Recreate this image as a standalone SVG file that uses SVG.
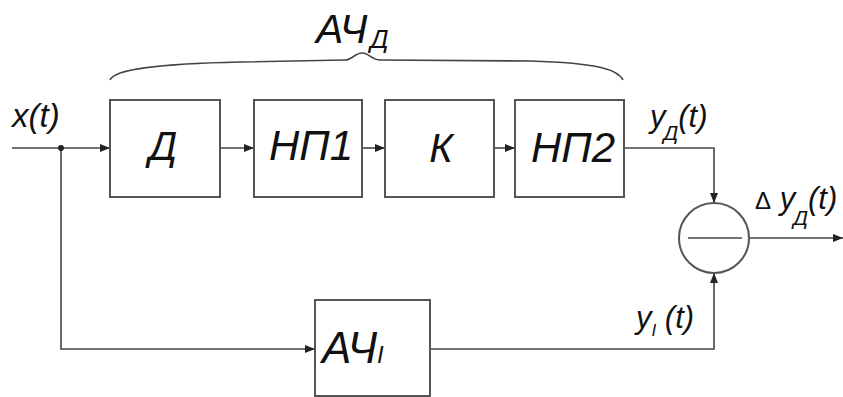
<svg xmlns="http://www.w3.org/2000/svg" width="843" height="397" viewBox="0 0 843 397">
<style>
.box{fill:#fff;stroke:#555;stroke-width:2}
.ln{fill:none;stroke:#444;stroke-width:1.6}
.t{font-family:"Liberation Sans",Arial,sans-serif;font-style:italic;fill:#111}
</style>
<defs>
<marker id="ar" viewBox="0 0 10 8" refX="10" refY="4" markerWidth="10" markerHeight="8" markerUnits="userSpaceOnUse" orient="auto">
<path d="M0,0 L10,4 L0,8 Z" fill="#222"/>
</marker>
</defs>
<rect width="843" height="397" fill="#fff"/>
<g id="connectors">
<path class="ln" d="M12,148 H110" marker-end="url(#ar)"/>
<path class="ln" d="M220,148 H254" marker-end="url(#ar)"/>
<path class="ln" d="M362,148 H385" marker-end="url(#ar)"/>
<path class="ln" d="M494,148 H515" marker-end="url(#ar)"/>
<path class="ln" d="M624,148 H714 V203" marker-end="url(#ar)"/>
<path class="ln" d="M61,148 V349 H315" marker-end="url(#ar)"/>
<path class="ln" d="M430,349 H714 V273" marker-end="url(#ar)"/>
<path class="ln" d="M749,238 H843" marker-end="url(#ar)"/>
<circle cx="61" cy="148" r="3" fill="#222"/>
</g>
<g id="brace">
<path class="ln" d="M110,80 C114,70 150,64 240,62 L345,60 C352,60 355,53 362,53 C369,53 372,60 380,60 L530,61 C600,63 618,70 623,80"/>
<text class="t" x="316" y="43" font-size="41">АЧ<tspan font-size="26" dx="3" dy="5">Д</tspan></text>
</g>
<g id="node-D">
<rect class="box" x="110" y="100" width="110" height="97"/>
<text class="t" x="163" y="160" font-size="40" text-anchor="middle">Д</text>
</g>
<g id="node-NP1">
<rect class="box" x="254" y="100" width="108" height="97"/>
<text class="t" x="311" y="160" font-size="42" text-anchor="middle">НП1</text>
</g>
<g id="node-K">
<rect class="box" x="385" y="100" width="109" height="97"/>
<text class="t" x="441" y="162" font-size="40" text-anchor="middle">К</text>
</g>
<g id="node-NP2">
<rect class="box" x="515" y="100" width="109" height="97"/>
<text class="t" x="573" y="162" font-size="42" text-anchor="middle">НП2</text>
</g>
<g id="node-ACh-I">
<rect class="box" x="315" y="300" width="115" height="96"/>
<text class="t" x="322" y="363" font-size="44">АЧ<tspan font-size="24" dy="0">I</tspan></text>
</g>
<g id="node-sum">
<circle cx="714" cy="238" r="35" fill="#fff" stroke="#555" stroke-width="2"/>
<path class="ln" d="M688,238 H742"/>
</g>
<g id="labels">
<text class="t" x="12" y="127" font-size="33">x(t)</text>
<text class="t" x="650" y="127" font-size="31">y<tspan font-size="21" dx="-2" dy="13">Д</tspan><tspan dy="-13">(t)</tspan></text>
<text class="t" x="755" y="209" font-size="31"><tspan font-size="24" font-style="normal">Δ</tspan> y<tspan font-size="21" dx="-2" dy="16">Д</tspan><tspan dy="-16">(t)</tspan></text>
<text class="t" x="636" y="328" font-size="31">y<tspan font-size="17" dy="8">I</tspan><tspan dy="-8"> (t)</tspan></text>
</g>
</svg>
